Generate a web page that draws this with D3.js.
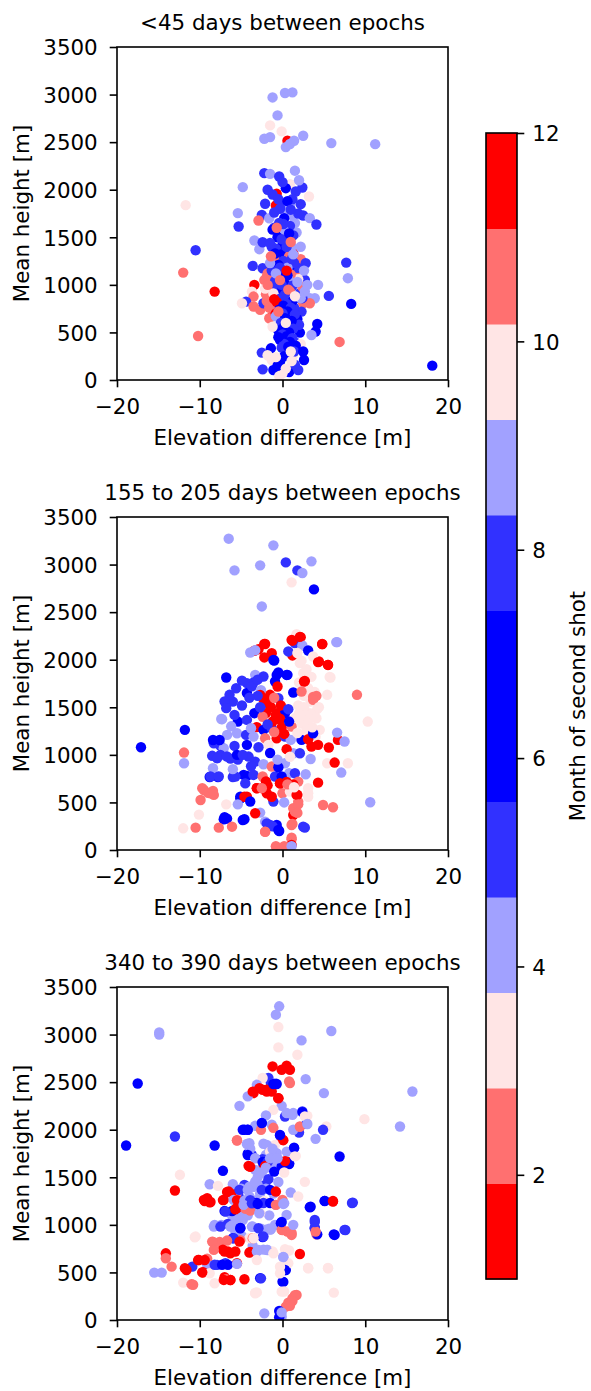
<!DOCTYPE html>
<html><head><meta charset="utf-8">
<script src="https://cdn.jsdelivr.net/npm/d3@7"></script>
<style>
body{margin:0;background:#fff;}
svg text{font-family:"DejaVu Sans",sans-serif;fill:#000;}
</style>
</head><body>
<svg id="c" width="591" height="1391"></svg>
<script>
// ---------- data ----------
const panelTitles = ["<45 days between epochs", "155 to 205 days between epochs", "340 to 390 days between epochs"];
const xLabel = "Elevation difference [m]";
const yLabel = "Mean height [m]";
const cbLabel = "Month of second shot";
const xTicks = [-20, -10, 0, 10, 20];
const yTicks = [0, 500, 1000, 1500, 2000, 2500, 3000, 3500];
const cbTicks = [2, 4, 6, 8, 10, 12];
const monthColors = ["#ff0000","#ff7070","#ffe5e5","#a1a1ff","#3131ff","#0000ff","#0000ff","#3131ff","#a1a1ff","#ffe5e5","#ff7070","#ff0000"];

// [elevation difference, mean height, month]
const points45 = [
[-1.2,2970,4],[0.3,3016,9],[1.2,3023,4],[-0.6,2781,9],[-1.5,2676,10],[-0.1,2613,3],[-2.2,2536,4],[-1.5,2553,9],[0.6,2515,12],[0.4,2448,4],[0.9,2480,9],[1.4,2515,4],[2.5,2567,9],[5.9,2490,4],[11.2,2479,9],
[-2.2,2174,5],[-1.5,2167,4],[-0.4,2139,8],[-4.8,2027,9],[0.9,2058,10],[0.4,2016,6],[2.4,2023,5],[3.2,1929,3],[-0.7,1957,1],[1.6,1981,8],[-11.7,1838,10],[-2.1,1852,5],[-0.8,1834,12],[0.1,1838,8],[0.9,1834,4],[2.2,1848,5],[-5.4,1754,9],[-2.5,1736,8],[1.2,1725,4],[2.5,1729,5],[3.3,1701,9],[-2.9,1676,11],[4.1,1634,5],[-5.3,1613,8],[-1.0,1600,5],[-0.2,1590,6],[0.6,1600,8],[1.7,1550,4],[-3.4,1466,9],[-2.8,1375,4],[-2.4,1448,5],[-10.5,1364,8],[-12.0,1129,2],[-8.2,929,1],[-10.2,463,11],[1.3,1333,12],[2.2,1270,2],[2.8,1227,5],[7.7,1234,8],[7.9,1070,4],[-3.6,1199,5],[-2.4,1175,8],[-1.3,1157,11],[-1.9,1087,2],[-3.4,1000,1],[-3.7,929,10],[-3.5,877,11],[-4.4,824,5],[-4.9,807,3],[-3.5,772,2],[-2.7,737,11],[-2.3,807,8],[-1.3,877,2],[-1.2,673,12],[-1.6,649,11],[0.3,631,1],[4.3,1000,9],[5.6,884,5],[8.3,800,6],[2.7,1052,8],[2.1,912,5],[3.3,859,4],[3.9,859,9],[2.5,807,11],[3.3,807,2],[2.3,719,8],[1.5,666,6],[4.2,589,7],[4.0,509,6],[3.5,473,4],[2.1,498,6],[6.9,400,2],[18.1,151,6],[1.7,386,5],[2.2,379,10],[-2.5,288,8],[-1.4,333,7],[2.6,210,6],[1.3,263,3],[0.8,274,6],[-2.4,112,5],[-1.1,105,6],[0.8,84,7],[1.9,105,8],[0.0,70,10],[-0.3,193,6],[-1.3,210,3],
[-1.8,1120,11],[-2.2,1050,2],[-1.5,980,11],[-2.0,900,2],[-1.0,1130,2],[-0.6,1060,11],[-1.9,830,11],[-1.6,760,2],[-0.8,700,12],[-2.1,960,3],[0.2,910,1],[1.6,1150,2],[2.4,980,11],[1.9,1060,10],
[1.8,640,6],[2.0,580,5],[1.0,560,6],[0.5,620,7],[1.4,760,5],[2.4,860,8],[2.7,930,4],[3.0,1000,9],[1.8,1180,5],[-0.5,1250,8],[0.9,1200,6],[-1.3,1400,5],[0.3,1500,8],[1.5,1650,9],[1.9,1750,5],[-1.6,1700,4],[0.7,1760,9],[-0.3,1800,5],[1.2,1900,8],[-1.2,1950,5],[2.0,2100,9],[0.0,2080,5],[-1.8,2000,8],[1.5,2200,4],
[-0.5,1900,5],[0.6,1880,6],[1.0,1790,8],[-1.0,1760,5],[0.2,1700,7],[-0.4,1650,8],[0.9,1620,5],[-1.2,1580,6],[0.3,1560,9],[1.3,1520,5],[-0.6,1500,7],[0.5,1470,8],[-1.5,1440,5],[0.0,1420,6],[1.1,1400,9],[-0.8,1380,8],[0.4,1350,5],[-0.2,1320,7],[0.8,1300,2],[-1.0,1280,11],[0.1,1250,8],[1.4,1230,5],[-0.5,1210,6],[0.6,1180,4],[-1.3,1150,5],[0.2,1130,8],[1.0,1110,2],[-0.3,1080,6],[0.7,1060,9],[-0.9,1040,8],[0.3,1010,7],[1.2,990,5],[-0.6,970,5],[0.0,950,6],[0.9,930,11],[-1.1,910,3],[0.4,890,8],[-0.2,860,5],[1.3,840,6],[-0.7,820,12],[0.5,800,8],[0.1,780,6],[1.0,760,5],[-0.4,740,7],[0.6,720,6],[0.0,700,8],[1.5,690,5],[-0.8,670,9],[0.3,650,7],[1.1,620,6],[-0.2,600,5],[0.7,580,6],[0.2,560,7],[1.3,540,8],[-0.5,520,6],[0.8,500,7],[0.0,480,5],[0.5,460,6],[1.2,440,8],[-0.3,420,6],[0.9,400,7],[0.2,380,5],[1.6,360,6],[-0.1,340,8],
[-0.5,450,6],[0.7,350,7],[1.4,300,8],[0.2,250,6],[-0.6,150,7],[1.5,160,5],[-1.8,260,10],[0.4,120,3],[-0.4,40,10],[1.1,200,10],[2.5,300,6],[0.3,900,5],[-0.1,1000,8],[0.6,1100,7],[-0.3,1180,5],[1.1,1270,8],[-0.9,1330,6],[0.5,1400,5],[-0.1,1480,8],[0.8,1540,6],[0.1,1640,5],[1.3,1320,4],[-1.5,1230,9],[2.2,1400,4],[-0.8,1120,4],[1.8,1030,4],[2.6,1150,9],[2.2,860,9],
[-0.7,1600,11],[1.0,1450,2],[-1.4,1300,11],[0.5,1150,1],[-0.3,1050,2],[-1.8,1000,11],[0.7,950,2],[-1.0,850,1],[1.5,880,10],[-0.5,720,2],[0.4,600,10],[-1.2,560,3],[1.0,300,10],[-0.8,240,3]
];

const points180 = [
[-6.5,3272,4],[-1.1,3202,9],[0.4,3023,5],[1.8,2939,8],[2.4,2911,4],[3.5,3034,9],[-2.7,2992,4],[-5.8,2939,9],[1.1,2813,10],[3.8,2739,6],[-2.5,2560,4],
[1.7,2269,3],[1.1,2209,1],[2.2,2237,12],[6.5,2185,9],[4.8,2164,1],[-2.2,2167,12],[-3.4,2094,1],[-3.9,2076,4],[1.5,2174,5],[2.4,2150,9],[-1.3,2069,12],[-2.2,2024,1],[-1.0,1992,6],[1.2,2045,12],[0.7,2087,8],[3.1,2097,7],[4.4,1981,1],[5.5,1946,12],[3.7,2034,10],[2.1,1964,3],[2.5,1859,10],[5.8,1813,3],
[1.8,2070,10],[2.3,1990,3],[2.9,1900,10],[3.5,1820,3],[2.0,1760,10],[3.1,1700,3],[3.9,1660,10],[2.6,1620,3],[3.4,1560,10],[4.2,1480,3],[1.9,1520,10],[2.8,1440,3],[3.6,1400,10],[2.3,1330,3],[3.2,1250,10],[4.0,1190,3],[2.0,1200,10],[5.7,1818,10],[2.7,1776,12],[3.7,1608,11],
[-6.8,1813,7],[-0.5,1866,6],[0.6,1841,7],[-3.3,1841,4],[-4.3,1754,5],[-3.5,1760,8],[-2.3,1824,5],[-0.9,1771,6],[-0.6,1718,12],[2.6,1771,1],[1.3,1655,6],[2.3,1666,2],[4.1,1620,11],[3.7,1578,2],[5.4,1631,10],[9.0,1631,11],
[-7.4,1377,9],[-6.0,1560,8],[-5.6,1700,5],[-4.9,1780,8],[-4.3,1650,6],[-3.7,1720,5],[-3.0,1790,8],[-2.6,1680,4],[-2.1,2165,1],[-2.9,2110,12],[-3.3,2100,4],[-1.1,1997,6],[-0.7,1840,7],[0.5,1840,6],[1.2,2200,12],[2.1,2240,1],[4.8,2165,1],[6.6,2185,9],[4.3,1975,12],[5.5,1945,1],
[-6.4,1631,5],[-7.0,1561,8],[-6.8,1491,5],[-4.9,1519,8],[-2.3,1585,1],[-1.5,1631,12],[-1.9,1543,5],[-0.5,1596,8],[-2.0,1438,12],[-3.4,1438,6],[-0.7,1438,1],[0.3,1438,7],[2.0,1438,10],[3.3,1438,3],[4.1,1385,10],[4.4,1501,3],[2.5,1368,10],
[-2.7,1630,1],[-2.0,1560,12],[-1.4,1500,1],[-0.8,1420,12],[-0.3,1370,1],[-2.4,1400,11],[-1.0,1600,2],
[-7.3,1375,4],[-5.4,1350,6],[-4.3,1368,8],[-3.1,1291,12],[-2.3,1263,7],[-1.3,1280,5],[-0.1,1287,1],[1.1,1298,11],[2.9,1263,10],[4.5,1263,3],[10.3,1350,10],[-11.8,1263,6],[-17.1,1080,7],
[-6.7,1210,9],[-5.5,1227,4],[-4.4,1210,5],[-3.5,1192,9],[-2.1,1175,2],[-0.7,1175,12],[0.3,1192,8],[1.0,1157,4],[2.3,1157,6],[3.1,1164,1],[3.7,1227,7],[4.3,1105,12],[3.5,1087,1],[6.7,1157,12],[7.5,1140,9],[6.6,1234,4],[5.6,1077,1],
[-8.3,1122,5],[-7.5,1094,8],[-7.1,1070,4],[-5.8,1094,5],[-4.3,1105,6],[-1.7,1105,10],[1.3,1017,9],[2.1,1017,5],[3.4,957,4],[5.4,912,3],[6.3,919,12],[7.9,912,10],[7.1,814,9],
[-8.4,1156,6],[-7.6,1156,7],[-8.5,990,5],[-7.5,1000,8],[-6.3,960,5],[-5.4,950,8],[-8.8,767,6],[-7.8,767,7],[-6.0,767,5],[-4.7,790,6],[-4.0,790,10],
[-11.9,1024,11],[-11.9,912,4],[-7.9,964,8],[-6.7,982,5],[-5.5,1000,7],[-4.1,982,8],[-3.3,929,5],[-2.3,901,9],[-0.5,877,6],[-1.3,877,2],[0.3,912,4],[0.8,807,9],[1.5,807,5],[2.8,796,4],[4.3,708,1],
[-8.4,859,9],[-8.7,772,5],[-7.7,772,8],[-5.7,772,5],[-4.3,779,6],[-3.5,789,8],[-2.4,772,11],[-0.9,772,5],[-0.1,772,7],[1.9,719,2],
[-9.5,631,11],[-8.7,596,2],[-9.9,526,11],[-8.3,579,2],[-5.1,561,7],[-4.3,561,12],[-3.1,649,1],[-1.9,596,12],[-1.1,509,8],[0.0,596,11],[0.9,614,3],[1.7,579,1],[1.9,509,2],[3.1,596,10],[4.9,473,11],[6.1,449,2],[10.6,502,4],
[-5.1,540,7],[-4.6,560,12],[-3.9,510,6],[-3.1,650,1],[-2.5,650,12],[-9.7,650,11],[-9.0,600,2],[-8.4,620,11],
[-6.8,480,10],[-5.4,480,9],[-2.7,393,4],[-3.3,386,1],[-10.1,372,3],[-6.9,333,5],[-4.6,323,6],[-7.1,323,7],[-2.1,298,9],[-1.5,263,5],[-0.7,263,6],[1.3,368,12],[1.2,274,11],[2.7,235,8],
[-7.0,346,6],[-6.7,330,7],[-4.8,315,6],[-1.9,280,8],[-1.2,250,5],[-0.5,210,6],[1.1,263,11],[2.5,245,5],[-2.1,190,11],[1.1,130,11],
[-12.0,228,10],[-10.5,235,11],[-7.7,235,2],[-6.1,245,11],[-2.1,193,2],[-0.4,200,7],[1.1,112,11],[1.1,53,12],[-0.7,18,2],[0.1,18,4],[1.5,403,2],[1.3,440,11],
[-0.8,40,2],[0.2,40,11],[1.1,40,9],[1.8,580,1],[1.9,480,11],[1.8,390,2],[3.1,560,10],[3.1,650,3],[-0.3,700,1],[0.5,715,12],[1.3,690,1],[-0.5,870,6],[-1.8,680,1],
[2.6,1500,10],[3.0,1330,3],[2.2,1420,10],[3.6,1290,3],[1.6,1390,10],[-1.2,1350,12],[-0.3,1380,1],[-1.8,1320,8],[0.8,1350,6],[-2.7,1500,5],[-3.0,1620,5],[-4.0,1600,8],[-5.8,1420,5],[-6.2,1300,4],[-3.8,1280,9],[-0.2,1520,12],[0.7,1480,5],[-1.0,1240,11],[0.2,1220,1],[1.8,1230,10],[-2.9,1080,5],[-1.5,1020,6],[0.5,1060,12],[-0.6,950,9],[0.9,980,3],[-3.8,880,5],[-6.0,850,9],[-4.8,1000,5],[-2.0,720,1],[-0.3,700,1],[0.6,690,2],[-1.3,560,12],[0.2,500,4],[1.4,660,3],[-2.5,650,11],[-4.5,700,8]
];

const points365 = [
[-0.4,3297,4],[-0.8,3209,9],[-0.5,3079,10],[-14.9,3023,4],[-14.9,3000,9],[5.9,3037,4],[2.3,2939,9],[-0.5,2865,3],[1.8,2788,10],
[-1.2,2665,12],[0.5,2672,1],[-0.1,2630,12],[0.9,2630,1],[0.8,2508,11],[2.8,2532,4],[-17.5,2486,6],[15.7,2402,9],[5.0,2385,4],[-1.7,2543,5],[-1.4,2490,8],[-0.9,2490,4],[-2.4,2543,10],[-3.1,2472,9],[-3.5,2385,1],[-2.8,2437,12],[-1.9,2420,1],[-1.3,2402,12],[-0.5,2332,1],[-4.2,2350,4],[-5.2,2251,9],[-0.1,2251,4],[-1.1,2209,10],[0.3,2139,5],[1.2,2157,9],[2.4,2192,8],[3.0,2146,3],[9.9,2111,10],[14.2,2034,4],[-2.0,2150,9],[-2.5,2069,5],[-3.3,2041,4],[-1.3,2052,9],[2.1,2034,11],[2.9,2062,5],[2.0,1971,8],[5.3,2034,3],[4.9,1999,5],[4.0,1904,9],
[-3.6,2400,12],[-2.4,2420,1],[-1.9,2400,12],[-1.1,2480,6],[-0.7,2480,7],[0.9,2490,11],[-0.5,2330,1],[0.5,2175,4],[1.3,2175,9],[2.4,2185,6],[2.7,2140,10],
[-2.6,1999,2],[-4.6,1999,6],[-4.2,1999,5],[-0.3,1939,8],[0.0,1894,12],[-13.0,1929,5],[-18.9,1834,7],[-8.2,1834,6],[-5.5,1887,11],[-4.0,1859,4],[-2.3,1852,9],[-0.9,1841,10],[1.4,1806,5],[1.3,1747,3],[-4.2,1747,6],[-3.7,1736,8],[-2.0,1736,4],[-0.7,1754,9],[6.9,1718,7],[1.6,1725,10],[-2.4,1690,5],[-1.4,1683,6],[0.5,1666,1],[-1.1,1648,4],[0.8,1648,7],[-0.1,1613,6],[-4.1,1620,12],[-2.3,1613,1],[-3.3,1578,9],[-7.2,1568,6],[-12.4,1526,10],[2.7,1452,3],[1.0,1340,4],[1.9,1298,10],
[-4.8,2000,6],[-4.2,2000,7],[-2.5,2070,6],[-1.1,2020,11],[0.1,1890,1],[-0.3,1945,6],[1.3,2000,4],[2.1,2030,11],[3.0,2060,9],[-5.5,1890,2],[-4.3,1850,4],[-3.9,1800,9],[-1.9,1840,4],[-1.5,1770,10],[-1.1,1710,4],[0.5,1770,9],[1.4,1810,7],[-4.2,1734,6],[-3.3,1700,4],[-2.4,1660,6],[-1.8,1660,5],[-3.9,1610,12],[-2.1,1620,1],[0.8,1640,7],[0.3,1670,12],[1.5,1720,10],
[-6.0,1050,9],[-5.5,1100,4],[-5.0,1150,9],[-4.5,1250,4],[-4.0,1300,9],[-3.5,1400,4],[-3.0,1500,9],[-2.5,1550,4],[-2.0,1600,9],[-1.5,1700,4],[-5.8,1000,4],[-4.8,1050,9],[-4.2,1100,4],[-3.6,1180,9],[-3.1,1260,4],[-2.7,1330,9],[-2.1,1420,5],[-1.7,1480,8],[-1.0,1560,6],[-0.6,1700,4],[-1.2,1800,9],[-6.3,1120,4],[-5.3,1300,8],[-4.6,1420,5],[-2.2,1250,10],[-1.6,1100,4],[-0.9,1000,9],[-0.5,1450,4],[0.2,1550,10],[-5.7,930,9],[-4.9,880,4],[-3.6,780,9],[-2.0,950,4],[-1.6,960,9],
[-6.1,1330,4],[-5.0,1380,9],[-4.0,1400,4],[-3.0,1420,9],[-2.0,1380,4],[-1.1,1330,9],[-5.5,1340,2],[-6.0,1360,1],[-6.7,1345,12],[-9.1,1280,1],
[-8.8,1427,4],[-7.8,1410,10],[-6.0,1427,9],[-5.2,1368,5],[-4.2,1368,4],[-3.3,1455,9],[-2.5,1368,8],[-1.5,1368,6],[-0.8,1350,12],[-6.5,1350,1],[-13.0,1361,12],[-9.5,1263,1],[-8.8,1238,12],[-7.1,1263,1],[-5.9,1263,4],[0.0,1263,11],[0.2,1227,9],[-0.8,1210,4],[3.3,1185,7],[5.1,1252,6],[6.1,1245,12],[8.5,1234,5],
[-9.4,1250,1],[-8.7,1240,12],[-7.2,1260,1],[-5.5,1260,12],[-4.6,1255,4],[-3.9,1260,5],[-7.0,1145,6],[-6.1,1145,7],[-5.5,1177,1],[-4.5,1170,11],[-2.7,1124,10],[-3.1,1230,6],[-2.3,1230,8],[-1.5,1230,7],[-0.8,1210,11],[0.1,1220,4],
[-6.9,1140,8],[-5.7,1164,1],[-3.9,1150,2],[-2.8,1122,9],[-4.7,1210,4],[-3.7,1227,5],[-3.0,1220,7],[0.5,1105,4],[-0.2,1017,6],[3.9,1052,8],[3.9,964,7],[7.5,947,5],[6.3,894,6],[4.1,901,11],
[-8.2,1000,4],[-7.4,1000,9],[-6.6,1010,8],[-6.0,1000,4],[-5.1,967,6],[-3.6,980,9],[-2.6,960,4],[-1.5,950,9],[-2.4,872,6],[-4.0,860,10],[-3.6,860,11],[-6.0,860,7],[-5.1,840,11],[-8.4,820,2],[-7.6,820,11],[-10.6,870,10],
[-8.3,982,4],[-7.5,982,8],[-6.3,982,9],[-5.1,964,6],[-3.7,982,4],[-2.9,964,5],[-1.4,954,9],[-0.1,947,2],[1.1,894,11],[-2.3,877,8],[-5.9,859,5],[-3.5,859,10],[-10.5,877,3],[-8.5,824,2],[-6.7,835,11],[-5.2,824,1],
[-7.2,740,12],[-6.6,720,1],[-5.7,720,12],[-3.9,715,1],[-2.9,735,4],[-2.3,740,9],[-1.8,735,4],[-1.2,720,10],[0.8,730,3],
[-8.3,737,2],[-7.0,719,12],[-6.3,701,1],[-4.0,708,12],[-3.1,719,4],[-1.9,737,9],[-1.1,701,10],[0.3,744,3],[2.1,694,1],[0.1,659,4],[-3.1,631,10],
[-14.1,701,1],[-14.1,649,11],[-13.4,561,2],[-10.9,561,5],[-10.1,631,12],[-9.1,645,11],[-9.1,579,4],[-7.9,579,8],[-6.9,596,5],[-5.5,596,1],[-11.6,526,12],[-9.6,502,1],[-8.8,491,10],[-15.5,498,4],[-14.6,498,9],[0.4,526,6],[0.7,596,3],[3.1,544,10],[5.5,544,3],
[-10.2,630,1],[-9.4,630,12],[-8.2,580,5],[-7.3,580,7],[-6.6,580,6],[-5.5,590,9],[-11.8,545,12],[-9.7,500,1],[-7.0,450,1],[-6.3,420,12],[-6.8,430,2],[-2.7,440,6],[0.1,400,7],[0.3,525,6],[0.1,662,4],
[0.0,945,11],[0.6,930,2],[1.1,915,11],[1.3,1000,9],[-0.1,1030,6],[3.9,970,5],[4.2,900,6],[4.0,930,11],[6.2,900,6],[7.6,946,5],[8.4,1230,8],[5.1,1250,6],[6.1,1250,1],[3.4,1190,7],[3.9,1030,8],
[-2.6,438,5],[0.0,403,7],[-0.3,491,10],[-12.0,393,3],[-11.0,375,11],[-10.8,370,2],[-8.2,386,10],[-7.1,421,12],[-6.3,421,1],[-4.6,428,1],[-3.3,281,10],[-0.1,298,3],[6.2,288,10],[0.7,182,11],[1.2,228,2],[1.7,263,11],[0.4,140,2],[-2.2,70,4],[-0.4,95,6],[-0.1,35,9],
[1.5,260,2],[1.2,200,11],[0.9,150,2],[3.1,547,10],[5.5,547,3],[-0.3,560,10],[0.2,300,3],[-3.3,285,10],[-3.1,290,3],[-0.4,30,6],[-0.1,80,9]
];

const panelData = [points45, points180, points365];

// ---------- layout ----------
const FS = 21.4;
const axLeft = 117, axRight = 448, axH = 333;
const axTops = [47, 517, 987];
const cbX = 486, cbW = 31, cbTop = 133, cbBottom = 1279;
const tickLen = 7.3, lw = 1.6;
const R = 5.2;

const svg = d3.select("#c");
const fmt = d => d < 0 ? "\u2212" + Math.abs(d) : String(d);
const color = d3.scaleQuantize().domain([1, 12]).range(monthColors);

const x = d3.scaleLinear().domain([-20, 20]).range([axLeft, axRight]);

panelData.forEach((pts, i) => {
  const top = axTops[i], bottom = top + axH;
  const y = d3.scaleLinear().domain([0, 3500]).range([bottom, top]);
  const g = svg.append("g");

  const clipId = "clip" + i;
  svg.append("clipPath").attr("id", clipId).append("rect")
    .attr("x", axLeft).attr("y", top).attr("width", axRight - axLeft).attr("height", axH);

  g.append("g").attr("clip-path", `url(#${clipId})`)
    .selectAll("circle").data(pts).enter().append("circle")
    .attr("cx", d => x(d[0])).attr("cy", d => y(d[1])).attr("r", R)
    .attr("fill", d => color(d[2]));

  const xa = g.append("g").attr("transform", `translate(0,${bottom})`)
    .call(d3.axisBottom(x).tickValues(xTicks).tickFormat(fmt).tickSize(tickLen).tickPadding(8).tickSizeOuter(0));
  const ya = g.append("g").attr("transform", `translate(${axLeft},0)`)
    .call(d3.axisLeft(y).tickValues(yTicks).tickFormat(fmt).tickSize(tickLen).tickPadding(12).tickSizeOuter(0));
  [xa, ya].forEach(a => {
    a.select(".domain").remove();
    a.selectAll("line").attr("stroke", "#000").attr("stroke-width", lw);
    a.selectAll("text").attr("font-size", FS).attr("font-family", "DejaVu Sans").attr("fill", "#000");
  });
  xa.selectAll("text").attr("dy", null).attr("y", 33.5);
  ya.selectAll("text").attr("dy", "0.36em");

  g.append("rect").attr("x", axLeft).attr("y", top).attr("width", axRight - axLeft).attr("height", axH)
    .attr("fill", "none").attr("stroke", "#000").attr("stroke-width", lw);

  g.append("text").attr("x", (axLeft + axRight) / 2).attr("y", top - 17.5)
    .attr("text-anchor", "middle").attr("font-size", FS).text(panelTitles[i]);
  g.append("text").attr("x", (axLeft + axRight) / 2).attr("y", bottom + 65)
    .attr("text-anchor", "middle").attr("font-size", FS).text(xLabel);
  g.append("text").attr("transform", `translate(${29},${(top + bottom) / 2}) rotate(-90)`)
    .attr("text-anchor", "middle").attr("font-size", FS).text(yLabel);
});

// ---------- colorbar ----------
const cy = d3.scaleLinear().domain([1, 12]).range([cbBottom, cbTop]);
const binW = 11 / monthColors.length;
const cb = svg.append("g");
cb.selectAll("rect.bin").data(monthColors).enter().append("rect").attr("class", "bin")
  .attr("x", cbX).attr("width", cbW)
  .attr("y", (c, k) => cy(1 + (k + 1) * binW))
  .attr("height", (c, k) => cy(1 + k * binW) - cy(1 + (k + 1) * binW) + 0.5)
  .attr("fill", c => c);
cb.append("rect").attr("x", cbX).attr("y", cbTop).attr("width", cbW).attr("height", cbBottom - cbTop)
  .attr("fill", "none").attr("stroke", "#000").attr("stroke-width", lw);
const ca = cb.append("g").attr("transform", `translate(${cbX + cbW},0)`)
  .call(d3.axisRight(cy).tickValues(cbTicks).tickFormat(fmt).tickSize(tickLen).tickPadding(8).tickSizeOuter(0));
ca.select(".domain").remove();
ca.selectAll("line").attr("stroke", "#000").attr("stroke-width", lw);
ca.selectAll("text").attr("font-size", FS).attr("font-family", "DejaVu Sans").attr("fill", "#000").attr("dy", "0.36em");
cb.append("text").attr("transform", `translate(${585},${(cbTop + cbBottom) / 2}) rotate(-90)`)
  .attr("text-anchor", "middle").attr("font-size", FS).text(cbLabel);
</script>
</body></html>
